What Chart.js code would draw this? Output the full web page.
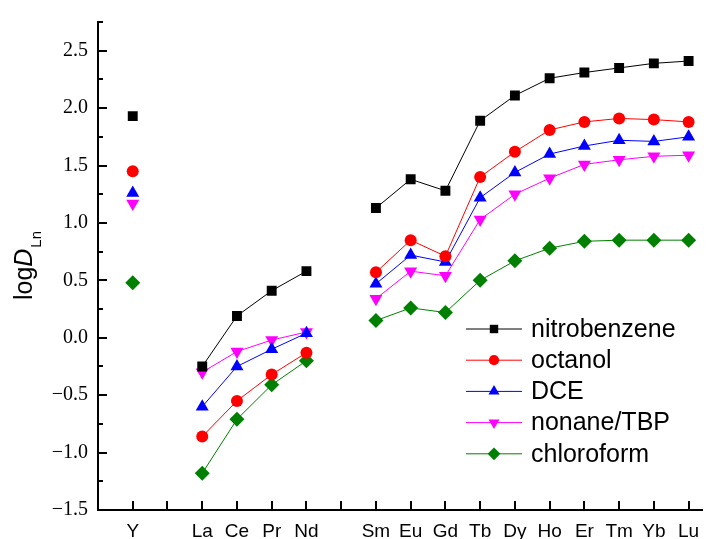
<!DOCTYPE html>
<html>
<head>
<meta charset="utf-8">
<title>logD of lanthanides</title>
<script src="https://cdn.jsdelivr.net/npm/chart.js@4.4.1/dist/chart.umd.min.js"></script>
<style>
  html, body { margin: 0; padding: 0; background: #fff; }
  #wrap { width: 710px; height: 539px; }
</style>
</head>
<body>
<div id="wrap"><canvas id="chart" width="710" height="539"></canvas></div>
<script>
// element slots along x; empty strings are spacer slots
const elements = ['Y', '', 'La', 'Ce', 'Pr', 'Nd', '', 'Sm', 'Eu', 'Gd', 'Tb', 'Dy', 'Ho', 'Er', 'Tm', 'Yb', 'Lu'];

const nitrobenzene = [1.93, null, -0.25, 0.19, 0.41, 0.58, null, 1.13, 1.38, 1.28, 1.89, 2.11, 2.26, 2.31, 2.35, 2.39, 2.41];
const octanol      = [1.45, null, -0.86, -0.55, -0.32, -0.13, null, 0.57, 0.85, 0.71, 1.40, 1.62, 1.81, 1.88, 1.91, 1.90, 1.88];
const dce          = [1.26, null, -0.60, -0.25, -0.10, 0.04, null, 0.47, 0.72, 0.66, 1.22, 1.44, 1.60, 1.67, 1.72, 1.71, 1.75];
const nonaneTbp    = [1.17, null, -0.30, -0.12, -0.02, 0.05, null, 0.34, 0.58, 0.54, 1.03, 1.25, 1.39, 1.51, 1.55, 1.58, 1.59];
const chloroform   = [0.48, null, -1.18, -0.71, -0.41, -0.20, null, 0.15, 0.26, 0.22, 0.50, 0.67, 0.78, 0.84, 0.85, 0.85, 0.85];

const yTicks = [-1.5, -1.0, -0.5, 0.0, 0.5, 1.0, 1.5, 2.0, 2.5];

const SANS = '"Liberation Sans", Arial, sans-serif';
const SERIF = '"Liberation Serif", "Times New Roman", serif';

// Y is a lone point, the other two groups are joined lines
function toPoints(values) {
  return values.map((v, i) => ({ x: i + 1, y: v }));
}

function series(label, values, color, style, radius, rotation) {
  return {
    label: label,
    data: toPoints(values),
    borderColor: color,
    backgroundColor: color,
    borderWidth: 1,
    pointStyle: style,
    pointRadius: radius,
    pointHoverRadius: radius,
    pointRotation: rotation || 0,
    pointBorderWidth: 0,
    pointBackgroundColor: color,
    spanGaps: false,
    tension: 0
  };
}

const datasets = [
  series('nitrobenzene', nitrobenzene, '#000000', 'rect', 7),
  series('octanol', octanol, '#ff0000', 'circle', 6),
  series('DCE', dce, '#0000ff', 'triangle', 7.5),
  series('nonane/TBP', nonaneTbp, '#ff00ff', 'triangle', 7.5, 180),
  series('chloroform', chloroform, '#008000', 'rectRot', 7.5)
];

// inward tick marks, minor ticks every 0.25 on y
const innerTicks = {
  id: 'innerTicks',
  afterDraw(chart) {
    const { ctx, chartArea, scales } = chart;
    const x = scales.x, y = scales.y;
    ctx.save();
    ctx.strokeStyle = '#000';
    ctx.lineWidth = 2;
    for (let k = 0; k <= 17; k++) {
      const v = -1.5 + k * 0.25;
      const py = Math.round(y.getPixelForValue(v));
      const len = k % 2 === 0 ? 9 : 5;
      ctx.beginPath();
      ctx.moveTo(chartArea.left, py);
      ctx.lineTo(chartArea.left + len, py);
      ctx.stroke();
    }
    for (let i = 1; i <= elements.length; i++) {
      const px = Math.round(x.getPixelForValue(i));
      ctx.beginPath();
      ctx.moveTo(px, chartArea.bottom);
      ctx.lineTo(px, chartArea.bottom - 9);
      ctx.stroke();
    }
    ctx.restore();
  }
};

// rotated y title: log D (italic) with subscript Ln
const yTitle = {
  id: 'yTitle',
  afterDraw(chart) {
    const { ctx, chartArea } = chart;
    const cy = (chartArea.top + chartArea.bottom) / 2;
    ctx.save();
    ctx.translate(32, cy);
    ctx.rotate(-Math.PI / 2);
    ctx.fillStyle = '#000';
    ctx.textBaseline = 'alphabetic';
    ctx.font = '25px ' + SANS;
    const w1 = ctx.measureText('log').width;
    ctx.font = 'italic 25px ' + SANS;
    const w2 = ctx.measureText('D').width;
    ctx.font = '15px ' + SANS;
    const w3 = ctx.measureText('Ln').width;
    let start = -(w1 + w2 + w3) / 2;
    ctx.font = '25px ' + SANS;
    ctx.fillText('log', start, 0);
    ctx.font = 'italic 25px ' + SANS;
    ctx.fillText('D', start + w1, 0);
    ctx.font = '15px ' + SANS;
    ctx.fillText('Ln', start + w1 + w2 + 1, 9);
    ctx.restore();
  }
};

// legend drawn as line + marker + name
const lineLegend = {
  id: 'lineLegend',
  afterDraw(chart) {
    const { ctx } = chart;
    const x0 = 466, x1 = 522, tx = 531;
    const top = 329, step = 31.2;
    ctx.save();
    chart.data.datasets.forEach((ds, i) => {
      const cy = top + i * step;
      ctx.strokeStyle = ds.borderColor;
      ctx.lineWidth = 1;
      ctx.beginPath();
      ctx.moveTo(x0, cy);
      ctx.lineTo(x1, cy);
      ctx.stroke();
      ctx.fillStyle = ds.pointBackgroundColor;
      ctx.strokeStyle = ds.pointBackgroundColor;
      Chart.helpers.drawPoint(ctx, {
        pointStyle: ds.pointStyle,
        rotation: ds.pointRotation,
        radius: ds.pointRadius * 0.85,
        borderWidth: 0
      }, (x0 + x1) / 2, cy);
      ctx.fillStyle = '#000';
      ctx.font = '25px ' + SANS;
      ctx.textBaseline = 'middle';
      ctx.fillText(ds.label, tx, cy + 1);
    });
    ctx.restore();
  }
};

new Chart(document.getElementById('chart'), {
  type: 'line',
  data: { datasets: datasets },
  plugins: [innerTicks, yTitle, lineLegend],
  options: {
    responsive: false,
    animation: false,
    events: [],
    layout: { padding: { top: 14, right: 1, left: 0, bottom: 0 } },
    plugins: {
      legend: { display: false },
      tooltip: { enabled: false },
      title: { display: false }
    },
    scales: {
      x: {
        type: 'linear',
        min: 0,
        max: 17.4,
        grid: { display: false, drawTicks: false },
        border: { display: true, color: '#000', width: 2 },
        afterFit(scale) { scale.height = 29; },
        afterBuildTicks(scale) {
          scale.ticks = elements.map((e, i) => ({ value: i + 1 }));
        },
        ticks: {
          autoSkip: false,
          maxRotation: 0,
          padding: 10,
          color: '#000',
          font: { family: SANS, size: 19 },
          callback: (v) => elements[v - 1] || ''
        }
      },
      y: {
        type: 'linear',
        min: -1.5,
        max: 2.75,
        grid: { display: false, drawTicks: false },
        border: { display: true, color: '#000', width: 2 },
        afterFit(scale) { scale.width = 98; },
        afterBuildTicks(scale) {
          scale.ticks = yTicks.map(v => ({ value: v }));
        },
        ticks: {
          padding: 10,
          color: '#000',
          font: { family: SERIF, size: 20 },
          callback: (v) => (v < 0 ? '\u2212' : '') + Math.abs(v).toFixed(1)
        }
      }
    }
  }
});
</script>
</body>
</html>
